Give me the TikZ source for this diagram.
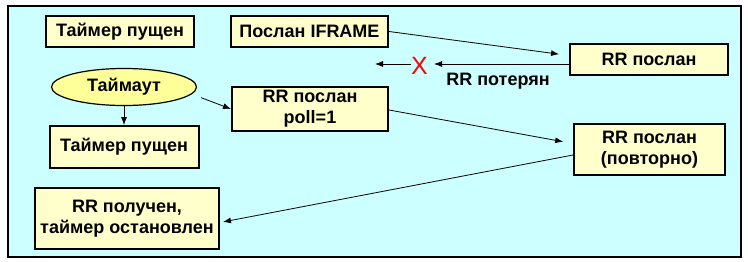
\documentclass[tikz,border=0pt]{standalone}
\usepackage{fontspec}
\setmainfont{Liberation Sans}
\usetikzlibrary{arrows.meta,positioning,shapes.geometric}
\definecolor{panelbg}{rgb}{0.80,1.00,1.00}
\definecolor{boxbg}{rgb}{1.00,1.00,0.80}
\definecolor{ovalbg}{rgb}{1.00,1.00,0.60}
\definecolor{lostred}{rgb}{1.00,0.00,0.00}

\begin{document}
\begin{tikzpicture}[x=1pt,y=-1pt,
        b/.style={draw=black,fill=boxbg,line width=2pt,inner sep=0pt,
                  align=center,font=\fontsize{18}{21}\selectfont\bfseries},
        o/.style={ellipse,draw=black,fill=ovalbg,line width=1.2pt,inner sep=0pt,
                  font=\fontsize{18}{21}\selectfont\bfseries},
        lbl/.style={inner sep=0pt,font=\fontsize{18}{21}\selectfont\bfseries},
        a/.style={-{Latex[length=8pt,width=6pt]},line width=0.8pt,black}
      ]
        \useasboundingbox (0,0) rectangle (748,262);
        \draw[fill=panelbg,line width=1.2pt] (8,6) rectangle (741,257);

        \node[b,minimum width=148pt,minimum height=31pt] (start) at (120,31.5) {Таймер пущен};
        \node[b,minimum width=157pt,minimum height=31pt] (iframe) at (309.5,31.5) {Послан IFRAME};
        \node[b,minimum width=158pt,minimum height=31pt] (rr) at (649,59.5) {RR послан};
        \node[o,minimum width=145pt,minimum height=37pt] (tout) at (124,87) {Таймаут};
        \node[b,minimum width=156pt,minimum height=44pt] (poll) at (310,109) {RR послан\\poll=1};
        \node[b,minimum width=149pt,minimum height=42pt,below=19pt of tout] (restart) {Таймер пущен};
        \node[b,minimum width=151pt,minimum height=51pt] (rr2) at (649.5,149.5) {RR послан\\(повторно)};
        \node[b,minimum width=184pt,minimum height=61pt] (recv) at (127,218.5) {RR получен,\\таймер остановлен};

        % lost frame
        \node[inner sep=0pt,text=lostred,font=\fontsize{25}{25}\selectfont] (lost) at (419.5,65.5) {X};
        \coordinate (gone) at (375,64);
        \node[lbl,anchor=base] (lostlbl) at (498,85) {RR потерян};

        \draw[a,shorten >=10pt] (iframe.east) -- ([yshift=4pt]rr.west);
        \draw[a,shorten >=6pt] ([yshift=-4.5pt]rr.west) -- ([yshift=-4.5pt]rr.west -| lost.east);
        \draw[a] (lost.west |- gone) -- (gone);
        \draw[a,shorten <=10pt] (tout.-6) -- (poll.west);
        \draw[a] (tout.south) -- (restart.north);
        \draw[a,shorten >=10pt] ([yshift=-1pt]poll.east) -- ([yshift=6pt]rr2.west);
        \draw[a,shorten >=3pt] ([yshift=-5.5pt]rr2.west) -- ([yshift=-4pt]recv.east);
      \end{tikzpicture}
\end{document}
